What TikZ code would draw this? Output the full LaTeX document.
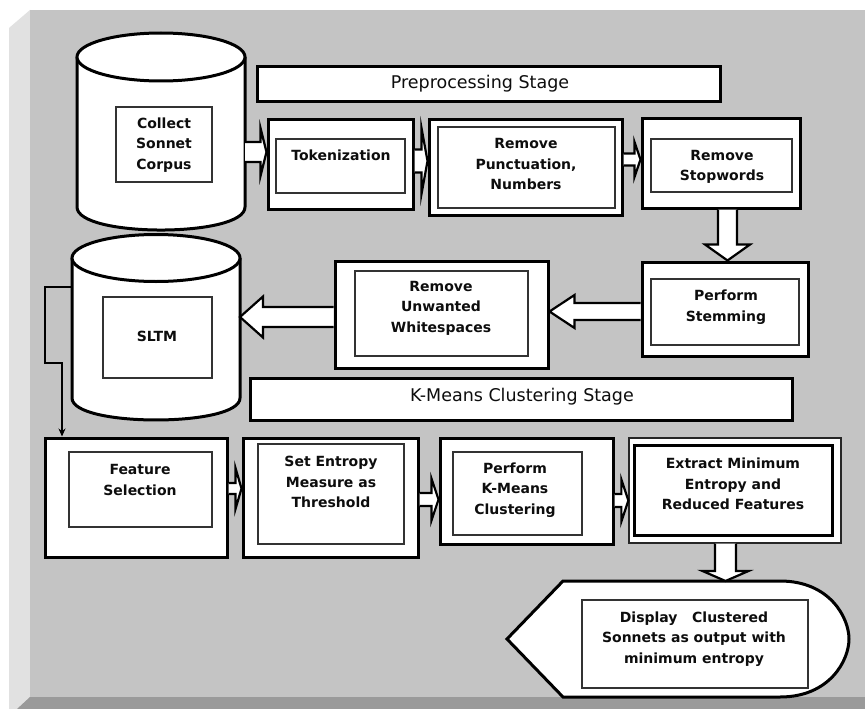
\documentclass[tikz,border=0pt]{standalone}
\usepackage{fontspec}
\setmainfont{DejaVu Sans}
\usetikzlibrary{calc,fit,arrows.meta}
\definecolor{panel}{HTML}{C4C4C4}
\definecolor{bevL}{HTML}{E1E1E1}
\definecolor{bevD}{HTML}{9A9A9A}
\tikzset{
  outerbox/.style={draw=black, line width=3pt, fill=white, inner sep=0pt},
  innerbox/.style={draw=black!80, line width=1.2pt, fill=white, inner sep=0pt},
  thinbox/.style={draw=black!80, line width=1.4pt, fill=white, inner sep=0pt},
  banner/.style={draw=black, line width=3pt, fill=white, inner sep=0pt},
  ghost/.style={draw=none, inner sep=0pt, outer sep=0pt},
  txt/.style={font=\bfseries\fontsize{14}{20.5}\selectfont, align=center, inner sep=0pt, text=black!95},
  bantxt/.style={font=\fontsize{17.5}{20}\selectfont, inner sep=0pt, text=black!95},
  blk/.style={draw=black, line width=2.2pt, fill=white, line join=miter, miter limit=20},
  cyl/.style={draw=black, line width=3pt},
  thinarrow/.style={draw=black, line width=1.6pt, -{Stealth[length=8pt,width=7pt]}}
}
\newcommand{\blkright}[6]{%
\draw[blk] ($(#1.east |- 0,#3)+(0,-#4)$) -- ($(#2.west |- 0,#3)+(-#6,-#4)$) -- ($(#2.west |- 0,#3)+(-#6,-#5)$) -- (#2.west |- 0,#3) -- ($(#2.west |- 0,#3)+(-#6,#5)$) -- ($(#2.west |- 0,#3)+(-#6,#4)$) -- ($(#1.east |- 0,#3)+(0,#4)$);}
\newcommand{\blkleft}[6]{%
\draw[blk] ($(#1.west |- 0,#3)+(0,-#4)$) -- ($(#2.east |- 0,#3)+(#6,-#4)$) -- ($(#2.east |- 0,#3)+(#6,-#5)$) -- (#2.east |- 0,#3) -- ($(#2.east |- 0,#3)+(#6,#5)$) -- ($(#2.east |- 0,#3)+(#6,#4)$) -- ($(#1.west |- 0,#3)+(0,#4)$);}
\newcommand{\blkdown}[6]{%
\draw[blk] ($(#1.south -| #3,0)+(-#4,0)$) -- ($(#2.north -| #3,0)+(-#4,-#6)$) -- ($(#2.north -| #3,0)+(-#5,-#6)$) -- (#2.north -| #3,0) -- ($(#2.north -| #3,0)+(#5,-#6)$) -- ($(#2.north -| #3,0)+(#4,-#6)$) -- ($(#1.south -| #3,0)+(#4,0)$);}
\begin{document}
\begin{tikzpicture}[x=1pt,y=-1pt]
\useasboundingbox (0,0) rectangle (865,709);
% background panel
\fill[white] (0,0) rectangle (865,709);
\fill[bevL] (9,28) -- (30,10) -- (30,709) -- (9,709) -- cycle;
\fill[panel] (30,10) rectangle (865,697);
\fill[bevD] (17,709) -- (30,697) -- (865,697) -- (865,709) -- cycle;

% cylinder 1
\node[ghost, fit={(77,33) (245,230)}] (cyl1) {};
\fill[white] (77,57) rectangle (245,207);
\draw[cyl, fill=white] (77,57) -- (77,207) .. controls (77,237.7) and (245,237.7) .. (245,207) -- (245,57);
\draw[cyl, fill=white] (161,57) ellipse [x radius=84, y radius=24];
\node[innerbox, fit={(116,107) (212,182)}] (c1in) {};
\node[txt] (t1) at (164,145) {Collect\\Sonnet\\Corpus};

% SLTM cylinder
\node[ghost, fit={(72,235) (240,420)}] (cyl2) {};
\draw[cyl, fill=white] (72,258) -- (72,398) .. controls (72,427.3) and (240,427.3) .. (240,398) -- (240,258);
\draw[cyl, fill=white] (156,258) ellipse [x radius=84, y radius=23.5];
\node[innerbox, fit={(103,297) (212,378)}] (sltmin) {};
\node[txt] (t2) at (157,336) {SLTM};

% banners
\node[banner, fit={(257,67) (720,101)}] (pre) {};
\node[bantxt] (tpre) at (480,84) {Preprocessing Stage};
\node[banner, fit={(250,378) (792,420)}] (kmb) {};
\node[bantxt] (tkmb) at (522,397) {K-Means Clustering Stage};

% row 1
\node[outerbox, fit={(268,119) (413,209)}] (tok) {};
\node[innerbox, fit={(276,139) (405,193)}] (tokin) {};
\node[txt] (t3) at (341,155) {Tokenization};

\node[outerbox, fit={(429,119) (622,215)}] (pun) {};
\node[thinbox, fit={(438,127) (615,208)}] (punin) {};
\node[txt] (t4) at (526,164) {Remove\\Punctuation,\\Numbers};

\node[outerbox, fit={(642,118) (800,208)}] (stop) {};
\node[innerbox, fit={(651,139) (792,192)}] (stopin) {};
\node[txt] (t5) at (722,167) {Remove\\Stopwords};

% row 2
\node[outerbox, fit={(642,262) (808,356)}] (stem) {};
\node[innerbox, fit={(651,279) (799,345)}] (stemin) {};
\node[txt] (t6) at (726,307) {Perform\\Stemming};

\node[outerbox, fit={(335,261) (548,368)}] (ws) {};
\node[innerbox, fit={(355,271) (528,356)}] (wsin) {};
\node[txt] (t7) at (441,308) {Remove\\Unwanted\\Whitespaces};

% row 3
\node[outerbox, fit={(45,438) (227,557)}] (feat) {};
\node[innerbox, fit={(69,452) (212,527)}] (featin) {};
\node[txt] (t8) at (140,480) {Feature\\Selection};

\node[outerbox, fit={(243,438) (418,557)}] (ent) {};
\node[innerbox, fit={(258,444) (404,544)}] (entin) {};
\node[txt] (t9) at (331,482) {Set Entropy\\Measure as\\Threshold};

\node[outerbox, fit={(440,438) (613,544)}] (km) {};
\node[innerbox, fit={(453,452) (582,535)}] (kmin) {};
\node[txt] (t10) at (515,490) {Perform\\K-Means\\Clustering};

\node[thinbox, draw=black!85, line width=1.3pt, fit={(629,438) (841,543)}] (ext) {};
\node[outerbox, fit={(634,445) (832,535)}] (extin) {};
\node[txt] (t11) at (733,484) {Extract Minimum\\Entropy and\\Reduced Features};

% display shape
\node[ghost, fit={(507,581) (849,697)}] (disp) {};
\draw[cyl, fill=white] (563,581) -- (780,581) .. controls (830,581) and (849,618) .. (849,639) .. controls (849,660) and (830,697) .. (780,697) -- (563,697) -- (507,639) -- cycle;
\node[innerbox, fit={(582,600) (808,688)}] (dispin) {};
\node[txt] (t12) at (694,639) {Display~~ Clustered\\Sonnets as output with\\minimum entropy};

% block arrows
\blkright{cyl1}{tok}{152}{10}{24}{6}
\blkright{tok}{pun}{161}{11.5}{33}{6}
\blkright{pun}{stop}{159.5}{6}{17.5}{6}
\blkdown{stop}{stem}{727.5}{9.5}{22.5}{16}
\blkleft{stem}{ws}{311.5}{8.5}{16.5}{25}
\blkleft{ws}{cyl2}{317}{10}{20.5}{23}
\blkright{feat}{ent}{488.5}{5.5}{20.5}{6}
\blkright{ent}{km}{499.5}{6.5}{21}{7}
\blkright{km}{ext}{500.5}{6.5}{21}{7}
\blkdown{ext}{disp}{725.5}{10.5}{23}{10}

% thin connector SLTM -> Feature Selection
\draw[thinarrow] (cyl2.west |- 0,287) -- (45,287) -- (45,363) -- (62,363) -- (feat.north -| 62,0);
\end{tikzpicture}
\end{document}
